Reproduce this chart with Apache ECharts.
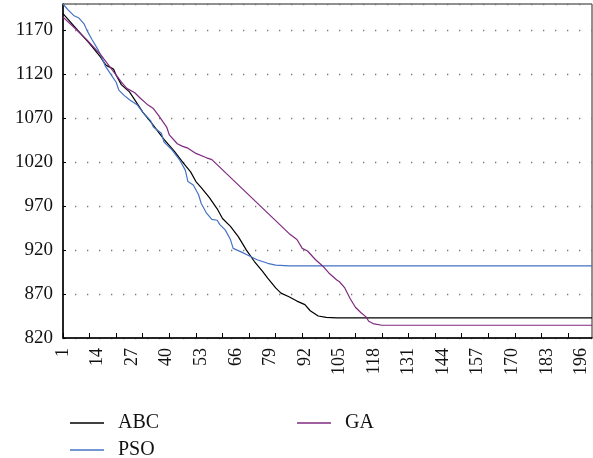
<!DOCTYPE html>
<html>
<head>
<meta charset="utf-8">
<script src="https://cdn.jsdelivr.net/npm/echarts@6/dist/echarts.min.js"></script>
<style>html,body{margin:0;padding:0;background:#fff}#c{width:593px;height:458px}</style>
</head>
<body>
<div id="c"></div>
<script>
// Iterations 1..200 (category axis)
var categories = [];
for (var k = 1; k <= 200; k++) categories.push(String(k));

// Y-axis ticks
var yMin = 820, yMax = 1200, yStep = 50;

// ABC
var abcIter = [1, 6, 11, 15, 17, 18, 20, 21, 23, 26, 28, 31, 34, 36, 39, 43, 46, 49, 51, 53, 56, 59, 61, 64, 67, 70, 73, 76, 78, 81, 83, 86, 89, 92, 94, 97, 100, 104, 200];
var abcVal  = [1189, 1172, 1155, 1140, 1131, 1129, 1126, 1119, 1108, 1100, 1091, 1077, 1066, 1058, 1046, 1032, 1020, 1009, 998, 991, 980, 967, 956, 947, 935, 920, 907, 896, 888, 877, 871, 867, 862, 858, 851, 845, 843.5, 843, 843];

// PSO
var psoIter = [1, 3, 5, 7, 9, 10, 12, 14, 15, 17, 19, 21, 22, 24, 26, 29, 31, 34, 35, 38, 39, 42, 45, 47, 48, 50, 52, 53, 55, 57, 59, 60, 62, 64, 65, 68, 70, 74, 78, 81, 86, 200];
var psoVal  = [1200, 1193, 1187, 1184, 1177, 1170, 1159, 1149, 1143, 1129, 1120, 1111, 1102, 1096, 1091, 1085, 1077, 1067, 1060, 1053, 1043, 1034, 1022, 1011, 998, 994, 983, 973, 962, 955, 954, 949, 943, 932, 922, 918, 915, 909, 905, 903, 902, 902];

// GA
var gaIter = [1, 6, 10, 15, 18, 20, 23, 25, 28, 30, 33, 35, 37, 40, 41, 44, 46, 48, 51, 55, 57, 86, 89, 91, 93, 96, 99, 101, 104, 105, 107, 109, 111, 113, 115, 116, 118, 121, 200];
var gaVal  = [1185, 1171, 1159, 1143, 1131, 1123, 1111, 1104, 1099, 1093, 1085, 1081, 1073, 1060, 1051, 1041, 1038, 1036, 1030, 1025, 1023, 939, 932, 922, 919, 909, 901, 894, 886, 884, 877, 865, 855, 849, 844, 839, 836, 834.5, 834.5];

function pairs(it, v) {
  var out = [];
  for (var i = 0; i < it.length; i++) out.push([it[i] - 1, v[i]]);
  return out;
}

var serif = '"Liberation Serif", "DejaVu Serif", serif';
var chart = echarts.init(document.getElementById('c'), null, {renderer: 'canvas'});
var legendBase = {
  orient: 'horizontal', icon: 'rect', itemWidth: 34, itemHeight: 1.5,
  textStyle: {fontFamily: serif, fontSize: 20, color: '#111', padding: [0, 0, 0, 9]},
  selectedMode: false
};
chart.setOption({
  animation: false,
  backgroundColor: '#fff',
  grid: {left: 63, right: 1, top: 4, bottom: 120, show: true, borderColor: '#222', borderWidth: 1, containLabel: false},
  legend: [
    Object.assign({}, legendBase, {data: ['ABC'], left: 65, top: 408}),
    Object.assign({}, legendBase, {data: ['GA'], left: 292, top: 408}),
    Object.assign({}, legendBase, {data: ['PSO'], left: 65, top: 435})
  ],
  xAxis: {
    type: 'category', data: categories, boundaryGap: false,
    axisLine: {lineStyle: {color: '#000', width: 1.5}},
    axisTick: {show: true, inside: true, length: 5, interval: 9, lineStyle: {color: '#000'}},
    axisLabel: {interval: 12, rotate: 90, margin: 10, fontFamily: serif, fontSize: 18, color: '#111'},
    splitLine: {show: false}
  },
  yAxis: {
    type: 'value', min: yMin, max: yMax, interval: yStep,
    axisLine: {show: true, lineStyle: {color: '#000', width: 1.5}},
    axisTick: {show: true, inside: true, length: 3, lineStyle: {color: '#000'}},
    axisLabel: {showMaxLabel: false, margin: 10, fontFamily: serif, fontSize: 19, color: '#111',
      formatter: function (v) { return String(v); }},
    splitLine: {show: true, lineStyle: {color: '#777', width: 1.3, type: [1.3, 10.7]}}
  },
  series: [
    {name: 'ABC', type: 'line', data: pairs(abcIter, abcVal), symbol: 'none', color: '#000000', lineStyle: {width: 1.2, color: '#000000'}},
    {name: 'PSO', type: 'line', data: pairs(psoIter, psoVal), symbol: 'none', color: '#4472c4', lineStyle: {width: 1.2, color: '#4472c4'}},
    {name: 'GA', type: 'line', data: pairs(gaIter, gaVal), symbol: 'none', color: '#7f2a80', lineStyle: {width: 1.2, color: '#7f2a80'}}
  ]
});
</script>
</body>
</html>
